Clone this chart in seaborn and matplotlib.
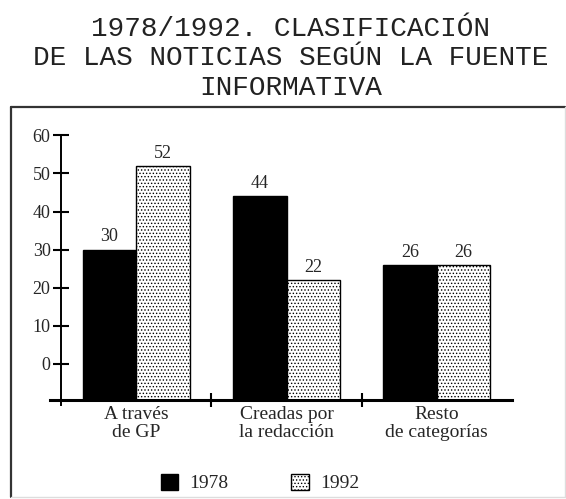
import matplotlib
matplotlib.use("Agg")
import matplotlib.pyplot as plt
import pandas as pd
import seaborn as sns
from matplotlib.lines import Line2D
from matplotlib.patches import Patch

# data
categories = ["A través\nde GP", "Creadas por\nla redacción", "Resto\nde categorías"]
years = ["1978", "1992"]
values_1978 = [30, 44, 26]
values_1992 = [52, 22, 26]
y_ticks = [0, 10, 20, 30, 40, 50, 60]

title = "1978/1992. CLASIFICACIÓN\nDE LAS NOTICIAS SEGÚN LA FUENTE\nINFORMATIVA"

df = pd.DataFrame({
    "categoria": categories * 2,
    "anio": [years[0]] * 3 + [years[1]] * 3,
    "valor": values_1978 + values_1992,
})

sns.set_style("white")
plt.rcParams["font.family"] = ["Liberation Serif", "DejaVu Serif"]
plt.rcParams["hatch.linewidth"] = 0.6

W, H = 566, 499
Y_MIN = -9.45  # the old chart's baseline sits below its 0 tick

fig = plt.figure(figsize=(W / 100, H / 100), dpi=100)
ax = fig.add_axes([61 / W, 1 - 400 / H, (512 - 61) / W, (400 - 135.3) / H])

sns.barplot(
    data=df, x="categoria", y="valor", hue="anio",
    palette={"1978": "black", "1992": "white"},
    edgecolor="black", linewidth=1.0, width=0.71,
    saturation=1, legend=False, ax=ax,
)
for bar in ax.containers[1]:
    bar.set_hatch(".....")

# bars in the original rise from the axis line, not from 0
for cont in ax.containers:
    for bar in cont:
        top = bar.get_y() + bar.get_height()
        bar.set_y(Y_MIN)
        bar.set_height(top - Y_MIN)
    ax.bar_label(cont, labels=[f"{v:.0f}" for v in cont.datavalues], padding=3, fontsize=13)

ax.set_xlim(-0.5, 2.5)
ax.set_ylim(Y_MIN, 60)
ax.set_yticks(y_ticks)
ax.set_xlabel("")
ax.set_ylabel("")
ax.set_xticks(range(3))
ax.set_xticklabels(categories, fontsize=14, linespacing=1.1)
ax.set_xticks([0.5, 1.5], minor=True)
ax.tick_params(axis="x", which="major", bottom=True, length=0, pad=4)
ax.tick_params(axis="x", which="minor", bottom=True, direction="inout", length=10, width=1.5, color="black")
ax.tick_params(axis="y", left=True, direction="inout", length=11, width=1.5, pad=2, labelsize=13, color="black")

for side in ["top", "right"]:
    ax.spines[side].set_visible(False)
ax.spines["bottom"].set_linewidth(2.2)
ax.spines["bottom"].set_bounds(-0.57, 2.5)
ax.spines["left"].set_linewidth(1.4)
ax.spines["left"].set_bounds(-10.8, 60)
ax.spines["bottom"].set_color("black")
ax.spines["left"].set_color("black")

fig.text(0.514, 1 - 16 / H, title, ha="center", va="top",
         family="Liberation Mono", fontsize=20, linespacing=1.17, color="#222222")

# frame around the chart
x0, x1 = 11 / W, 565 / W
y0, y1 = 1 - 497 / H, 1 - 107 / H
fig.add_artist(Line2D([x0, x1], [y1, y1], transform=fig.transFigure, color="#333333", lw=1.6))
fig.add_artist(Line2D([x0, x0], [y0, y1], transform=fig.transFigure, color="#333333", lw=1.6))
fig.add_artist(Line2D([x0, x1], [y0, y0], transform=fig.transFigure, color="#dddddd", lw=1.0))
fig.add_artist(Line2D([x1, x1], [y0, y1], transform=fig.transFigure, color="#dddddd", lw=1.0))

handles = [
    Patch(facecolor="black", edgecolor="black", label=years[0]),
    Patch(facecolor="white", edgecolor="black", hatch=".....", label=years[1]),
]
fig.legend(handles=handles, loc="center", bbox_to_anchor=(260 / W, 1 - 483 / H),
           ncol=2, frameon=False, fontsize=14, handlelength=0.9, handleheight=0.9,
           handletextpad=0.6, columnspacing=3.2)

fig.savefig("out.png", dpi=100)
